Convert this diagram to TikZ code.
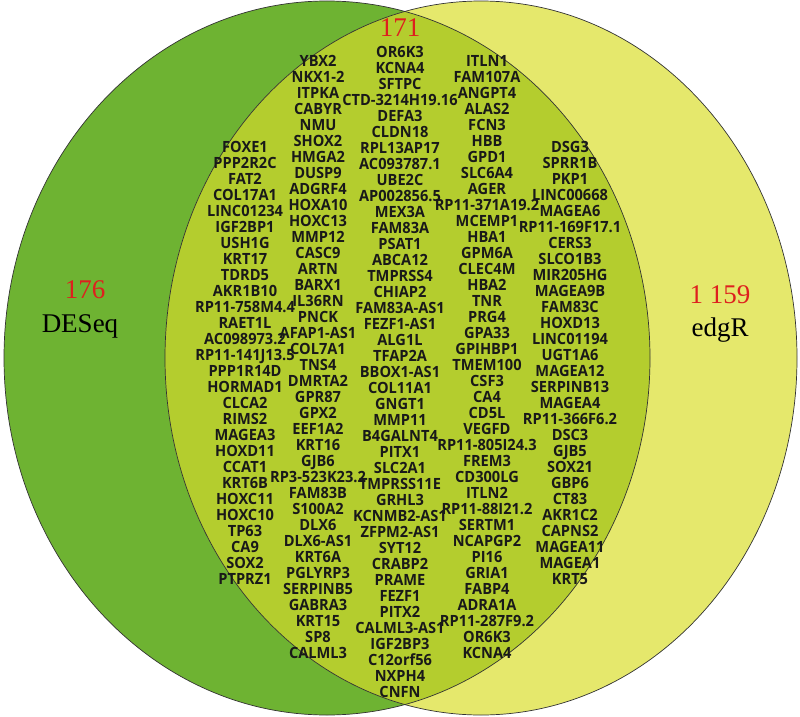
\documentclass[tikz,border=0pt]{standalone}
\usepackage{fontspec}
\setmainfont{Liberation Serif}
\newfontfamily\genefont{Open Sans}
\definecolor{deseqgreen}{RGB}{110,179,50}
\definecolor{bothgreen}{RGB}{180,205,46}
\definecolor{edgryellow}{RGB}{229,232,108}
\definecolor{countred}{RGB}{222,32,30}
\begin{document}
\begin{tikzpicture}[x=1pt,y=-1pt,
		gene/.style={font=\genefont\bfseries\fontsize{14.6}{16}\selectfont,text=black!90,inner sep=0pt,
			text height=7.6pt,text depth=0pt,yscale=1.06,transform shape},
		count/.style={font=\fontsize{27}{30}\selectfont,text=countred,inner sep=0pt},
		setname/.style={font=\fontsize{27}{30}\selectfont,text=black,inner sep=0pt}]
	\useasboundingbox (0,0) rectangle (800,717);
	% the two sets and their overlap
	\fill[deseqgreen] (327,358) ellipse [x radius=323,y radius=357];
	\fill[edgryellow] (481,358) ellipse [x radius=316,y radius=357];
	\begin{scope}
		\clip (327,358) ellipse [x radius=323,y radius=357];
		\fill[bothgreen] (481,358) ellipse [x radius=316,y radius=357];
	\end{scope}
	\draw[black!80,line width=0.7pt] (327,358) ellipse [x radius=323,y radius=357];
	\draw[black!80,line width=0.7pt] (481,358) ellipse [x radius=316,y radius=357];
	% counts and set names
	\node[count] (n-deseq) at (85,290) {176};
	\node[setname] (deseq) at (80,326) {DESeq};
	\node[count] (n-both) at (400,28) {171};
	\node[count] (n-edgr) at (720,295) {1 159};
	\node[setname] (edgr) at (720,330) {edgR};
	% shared genes, column by column
	\foreach \g [count=\i] in {FOXE1,PPP2R2C,FAT2,COL17A1,LINC01234,IGF2BP1,USH1G,KRT17,TDRD5,AKR1B10,
		RP11-758M4.4,RAET1L,AC098973.2,RP11-141J13.5,PPP1R14D,HORMAD1,CLCA2,RIMS2,MAGEA3,HOXD11,
		CCAT1,KRT6B,HOXC11,HOXC10,TP63,CA9,SOX2,PTPRZ1}
		\node[gene] (a\i) at (245,{148+16*(\i-1)}) {\g};
	\foreach \g [count=\i] in {YBX2,NKX1-2,ITPKA,CABYR,NMU,SHOX2,HMGA2,DUSP9,ADGRF4,HOXA10,
		HOXC13,MMP12,CASC9,ARTN,BARX1,IL36RN,PNCK,AFAP1-AS1,COL7A1,TNS4,
		DMRTA2,GPR87,GPX2,EEF1A2,KRT16,GJB6,RP3-523K23.2,FAM83B,S100A2,DLX6,
		DLX6-AS1,KRT6A,PGLYRP3,SERPINB5,GABRA3,KRT15,SP8,CALML3}
		\node[gene] (b\i) at (318,{62+16*(\i-1)}) {\g};
	\foreach \g [count=\i] in {OR6K3,KCNA4,SFTPC,CTD-3214H19.16,DEFA3,CLDN18,RPL13AP17,AC093787.1,UBE2C,AP002856.5,
		MEX3A,FAM83A,PSAT1,ABCA12,TMPRSS4,CHIAP2,FAM83A-AS1,FEZF1-AS1,ALG1L,TFAP2A,
		BBOX1-AS1,COL11A1,GNGT1,MMP11,B4GALNT4,PITX1,SLC2A1,TMPRSS11E,GRHL3,KCNMB2-AS1,
		ZFPM2-AS1,SYT12,CRABP2,PRAME,FEZF1,PITX2,CALML3-AS1,IGF2BP3,C12orf56,NXPH4,CNFN}
		\node[gene] (c\i) at (400,{53+16*(\i-1)}) {\g};
	\foreach \g [count=\i] in {ITLN1,FAM107A,ANGPT4,ALAS2,FCN3,HBB,GPD1,SLC6A4,AGER,RP11-371A19.2,
		MCEMP1,HBA1,GPM6A,CLEC4M,HBA2,TNR,PRG4,GPA33,GPIHBP1,TMEM100,
		CSF3,CA4,CD5L,VEGFD,RP11-805I24.3,FREM3,CD300LG,ITLN2,RP11-88I21.2,SERTM1,
		NCAPGP2,PI16,GRIA1,FABP4,ADRA1A,RP11-287F9.2,OR6K3,KCNA4}
		\node[gene] (d\i) at (487,{62+16*(\i-1)}) {\g};
	\foreach \g [count=\i] in {DSG3,SPRR1B,PKP1,LINC00668,MAGEA6,RP11-169F17.1,CERS3,SLCO1B3,MIR205HG,MAGEA9B,
		FAM83C,HOXD13,LINC01194,UGT1A6,MAGEA12,SERPINB13,MAGEA4,RP11-366F6.2,DSC3,GJB5,
		SOX21,GBP6,CT83,AKR1C2,CAPNS2,MAGEA11,MAGEA1,KRT5}
		\node[gene] (e\i) at (570,{148+16*(\i-1)}) {\g};
\end{tikzpicture}
\end{document}
